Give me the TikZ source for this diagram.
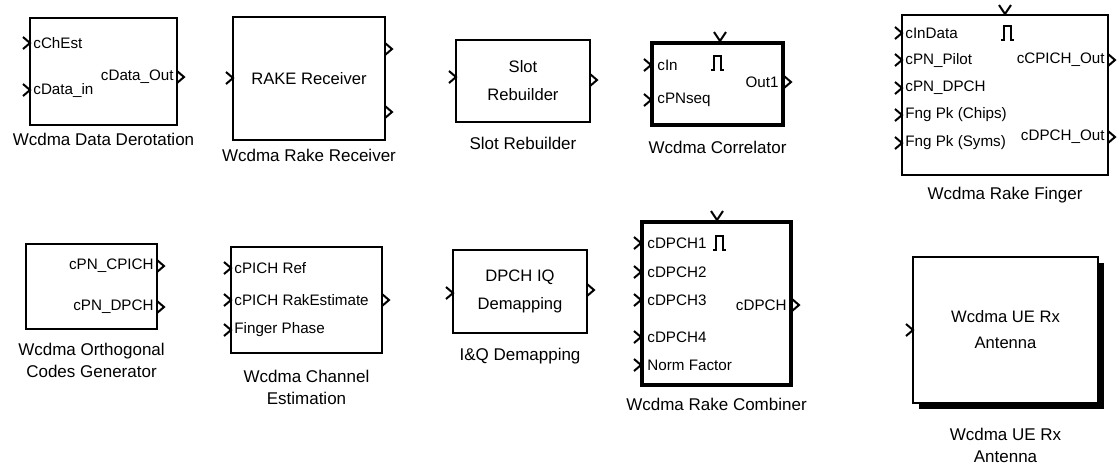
\documentclass[tikz,border=0pt]{standalone}
\usepackage{fontspec}
\setmainfont{Liberation Sans}
\usetikzlibrary{positioning,shadows}

\begin{document}
\begin{tikzpicture}[x=0.5pt, y=-0.5pt, node distance=3pt,
  blk/.style={draw, line width=1.2pt, inner sep=0pt, align=center, font=\fontsize{8.3}{10}\selectfont},
  heavy/.style={blk, line width=2.2pt},
  blkname/.style={inner sep=1pt, align=center, font=\fontsize{8.5}{11}\selectfont},
  txt/.style={inner sep=0pt, font=\fontsize{7.6}{9}\selectfont},
  port/.style={line width=1pt}]
\useasboundingbox (0,0) rectangle (1120,468);

% ---- top row ----
\node[blk, minimum width=73.5pt, minimum height=53.5pt] (dd) at (103.5,71.5) {};
\node[blkname, below=2.5pt of dd] (ddcap) {Wcdma Data Derotation};
\foreach \y/\t [count=\i] in {43/cChEst, 90/cData\_in}{
  \draw[port] (23,\y-6) -- (30,\y) -- (23,\y+6);
  \node[txt, anchor=west] (ddin\i) at (33,\y) {\t};
}
\draw[port] (177,71) -- (184,77) -- (177,83);
\node[txt, anchor=east] (ddout) at (174,77) {cData\_Out};

\node[blk, minimum width=76pt, minimum height=61.5pt] (rr) at (309,78.5) {RAKE Receiver};
\node[blkname, below=3pt of rr] (rrcap) {Wcdma Rake Receiver};
\draw[port] (226,72) -- (233,78) -- (226,84);
\foreach \y in {49,112}
  \draw[port] (385,\y-6) -- (392,\y) -- (385,\y+6);

\node[blk, minimum width=67pt, minimum height=41pt] (sr) at (523,81) {Slot\\[4pt]Rebuilder};
\node[blkname, below=6pt of sr] (srcap) {Slot Rebuilder};
\draw[port] (449,71) -- (456,77) -- (449,83);
\draw[port] (590,74) -- (597,80) -- (590,86);

\node[heavy, minimum width=65.5pt, minimum height=41pt] (co) at (717.5,84) {};
\node[blkname, below=6pt of co] (cocap) {Wcdma Correlator};
\draw[port] (714,32) -- (720,41) -- (726,32);
\foreach \y/\t [count=\i] in {65/cIn, 100/cPNseq}{
  \draw[port] (644,\y-6) -- (651,\y) -- (644,\y+6);
  \node[txt, anchor=west] (coin\i) at (657,\y) {\t};
}
\draw[port] (784,76) -- (791,82) -- (784,88);
\node[txt, anchor=east] (coout) at (779,82) {Out1};
\draw[line width=1pt] (711,70) -- (714,70) -- (714,56) -- (721,56) -- (721,70) -- (724,70);

\node[blk, minimum width=103pt, minimum height=80pt] (rf) at (1005,95) {};
\node[blkname, below=4.5pt of rf] (rfcap) {Wcdma Rake Finger};
\draw[port] (999,5) -- (1005,14) -- (1011,5);
\foreach \y/\t [count=\i] in {33/cInData, 60/cPN\_Pilot, 88/cPN\_DPCH, 115/Fng Pk (Chips), 143/Fng Pk (Syms)}{
  \draw[port] (895,\y-6) -- (902,\y) -- (895,\y+6);
  \node[txt, anchor=west] (rfin\i) at (905,\y) {\t};
}
\foreach \y/\t [count=\i] in {60/cCPICH\_Out, 137/cDPCH\_Out}{
  \draw[port] (1108,\y-6) -- (1115,\y) -- (1108,\y+6);
  \node[txt, anchor=east] (rfout\i) at (1105,\y) {\t};
}
\draw[line width=1pt] (1001,40) -- (1004,40) -- (1004,26) -- (1011,26) -- (1011,40) -- (1014,40);

% ---- bottom row ----
\node[blk, minimum width=65.5pt, minimum height=42.5pt] (og) at (91.5,286.5) {};
\node[blkname, below=5.5pt of og] (ogcap) {Wcdma Orthogonal\\Codes Generator};
\foreach \y/\t [count=\i] in {266/cPN\_CPICH, 307/cPN\_DPCH}{
  \draw[port] (157,\y-6) -- (164,\y) -- (157,\y+6);
  \node[txt, anchor=east] (ogout\i) at (154,\y) {\t};
}

\node[blk, minimum width=75.5pt, minimum height=53pt] (ce) at (306.5,300) {};
\node[blkname, below=7pt of ce] (cecap) {Wcdma Channel\\Estimation};
\foreach \y/\t [count=\i] in {268/cPICH Ref, 300/cPICH RakEstimate, 330/Finger Phase}{
  \draw[port] (224,\y-6) -- (231,\y) -- (224,\y+6);
  \node[txt, anchor=west] (cein\i) at (234,\y) {\t};
}
\draw[port] (382,294) -- (389,300) -- (382,306);

\node[blk, minimum width=67pt, minimum height=41.5pt] (iq) at (520,291.5) {DPCH IQ\\[4pt]Demapping};
\node[blkname, below=6pt of iq] (iqcap) {I\&Q Demapping};
\draw[port] (446,287) -- (453,293) -- (446,299);
\draw[port] (587,284) -- (594,290) -- (587,296);

\node[heavy, minimum width=74.5pt, minimum height=81.5pt] (rc) at (716.5,303.5) {};
\node[blkname, below=4.5pt of rc] (rccap) {Wcdma Rake Combiner};
\draw[port] (711,211) -- (717,220) -- (723,211);
\foreach \y/\t [count=\i] in {243/cDPCH1, 272/cDPCH2, 300/cDPCH3, 337/cDPCH4, 365/Norm Factor}{
  \draw[port] (634,\y-6) -- (641,\y) -- (634,\y+6);
  \node[txt, anchor=west] (rcin\i) at (647,\y) {\t};
}
\draw[port] (792,299) -- (799,305) -- (792,311);
\node[txt, anchor=east] (rcout) at (787,305) {cDPCH};
\draw[line width=1pt] (713,250) -- (716,250) -- (716,236) -- (723,236) -- (723,250) -- (726,250);

\node[blk, line width=0.8pt, fill=white, drop shadow={shadow xshift=3pt, shadow yshift=-3pt, fill=black, opacity=1},
  minimum width=92.5pt, minimum height=73pt] (ua) at (1005.5,330) {Wcdma UE Rx\\[3pt]Antenna};
\node[blkname, below=11pt of ua] (uacap) {Wcdma UE Rx\\Antenna};
\draw[port] (906,324) -- (913,330) -- (906,336);
\end{tikzpicture}
\end{document}
